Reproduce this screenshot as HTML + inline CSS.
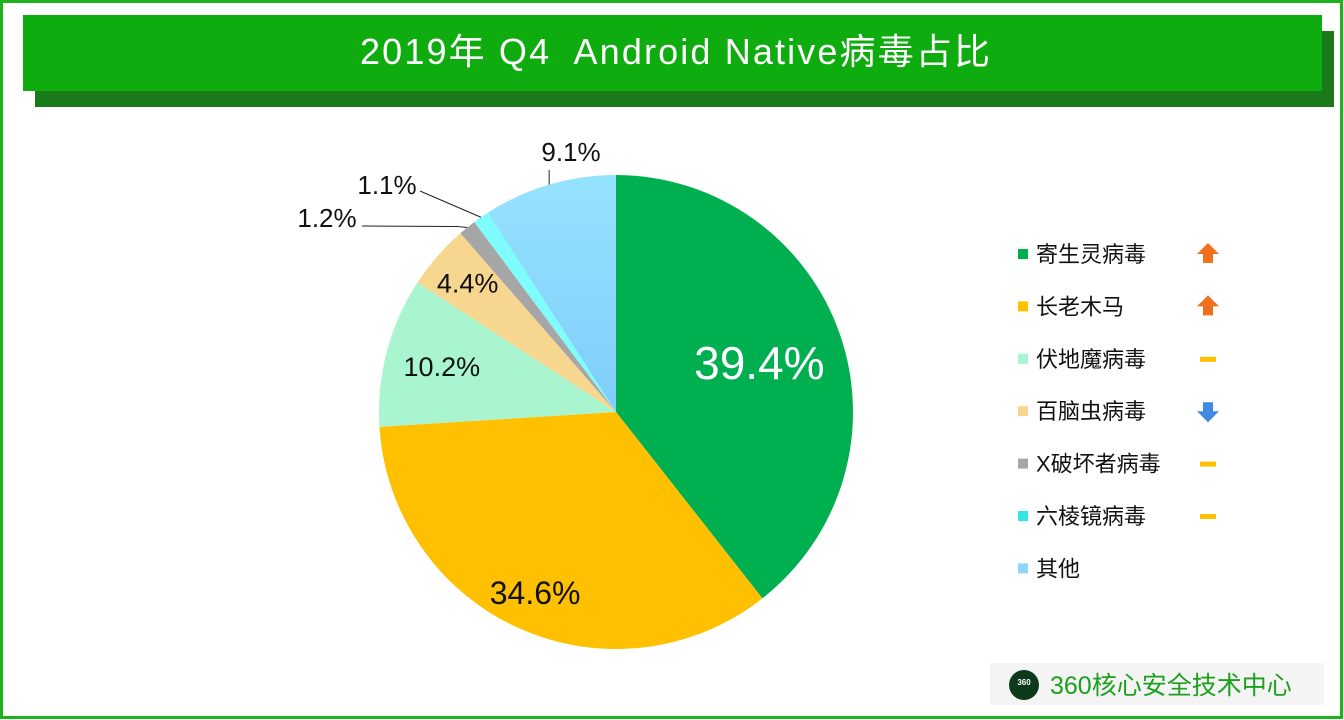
<!DOCTYPE html>
<html><head><meta charset="utf-8"><style>
body{margin:0;width:1344px;height:720px;overflow:hidden;background:#fff;font-family:"Liberation Sans","Noto Sans CJK SC",sans-serif;}
</style></head><body>
<svg width="1344" height="720" xmlns="http://www.w3.org/2000/svg" style="display:block">
<defs>
<linearGradient id="gb" x1="0" y1="0" x2="0" y2="1"><stop offset="0" stop-color="#95e3fd"/><stop offset="1" stop-color="#7fcdfb"/></linearGradient>
</defs>
<rect x="1.5" y="1.5" width="1340" height="716" fill="none" stroke="#1db31d" stroke-width="3"/>
<rect x="35" y="31" width="1299" height="76" fill="#1a7a1a"/>
<rect x="23" y="15" width="1299" height="76" fill="#0eac0e"/>
<text x="360" y="64" font-size="36" fill="#fff" textLength="630" lengthAdjust="spacing" xml:space="preserve">2019年 Q4  Android Native病毒占比</text>
<g id="pie"></g>
<g id="legend"></g>
<rect x="990" y="663" width="334" height="42" fill="#f4f4f4"/>
<circle cx="1024" cy="685" r="15" fill="#0c3a1a"/>
<text x="1024" y="685" text-anchor="middle" font-size="8" fill="#fff" font-weight="bold">360</text>
<text x="1050" y="694" font-size="25" fill="#1da01d">360核心安全技术中心</text>
</svg>
<script>
const categories=["寄生灵病毒","长老木马","伏地魔病毒","百脑虫病毒","X破坏者病毒","六棱镜病毒","其他"];
const values=[39.4,34.6,10.2,4.4,1.2,1.1,9.1];
const labels=["39.4%","34.6%","10.2%","4.4%","1.2%","1.1%","9.1%"];
const trends=["up","up","flat","down","flat","flat",""];
const colors=["#00b050","#ffc000","#a9f5cf","#f7d68f","#a6a6a6","#7ffcfc","url(#gb)"];
const legendColors=["#00b050","#ffc000","#a9f5cf","#f7d68f","#a6a6a6","#33e6e6","#8fd4fb"];
const NS="http://www.w3.org/2000/svg";
const cx=616,cy=412,r=237;
const pie=document.getElementById('pie');
const total=values.reduce((a,b)=>a+b,0);
function pt(a,rr){return [cx+rr*Math.sin(a),cy-rr*Math.cos(a)];}
let acc=0;
const mids=[];
values.forEach((v,i)=>{
  const a0=acc/total*2*Math.PI; acc+=v; const a1=acc/total*2*Math.PI;
  const p0=pt(a0,r),p1=pt(a1,r);
  const p=document.createElementNS(NS,'path');
  p.setAttribute('d',`M${cx},${cy}L${p0[0]},${p0[1]}A${r},${r} 0 ${a1-a0>Math.PI?1:0} 1 ${p1[0]},${p1[1]}Z`);
  p.setAttribute('fill',colors[i]);
  
  
  pie.appendChild(p);
  mids.push((a0+a1)/2);
});
function txt(x,y,s,size,fill,name){
  const t=document.createElementNS(NS,'text');
  t.setAttribute('x',x);t.setAttribute('y',y);t.setAttribute('font-size',size);t.setAttribute('fill',fill);
  t.setAttribute('text-anchor','middle');t.textContent=s;
  
  
  pie.appendChild(t);return t;
}
function line(pts,name){
  const l=document.createElementNS(NS,'polyline');
  l.setAttribute('points',pts.map(p=>p.join(',')).join(' '));
  l.setAttribute('fill','none');l.setAttribute('stroke','#222');l.setAttribute('stroke-width','1');
  
  
  pie.appendChild(l);
}
const inside=[[0,0.64,46,"#fff"],[1,0.835,32,"#111"],[2,0.76,27,"#111"],[3,0.83,27,"#111"]];
inside.forEach(([i,f,s,c])=>{const p=pt(mids[i],r*f);txt(p[0],p[1]+s*0.36,labels[i],s,c,'label-'+i);});
let e=pt(mids[4],r);line([[e[0],e[1]],[e[0]-10,e[1]-1],[362,226]],'leader-4');
txt(327,227,labels[4],26,"#111",'label-4');
e=pt(mids[5],r);line([[e[0],e[1]],[420,191]],'leader-5');
txt(387,194,labels[5],26,"#111",'label-5');
e=pt(mids[6],r);line([[e[0],e[1]],[e[0],170]],'leader-6');
txt(571,161,labels[6],26,"#111",'label-6');
const lg=document.getElementById('legend');
categories.forEach((c,i)=>{
  const y=254+i*52.4;
  const sq=document.createElementNS(NS,'rect');
  sq.setAttribute('x',1018);sq.setAttribute('y',y-5);sq.setAttribute('width',10);sq.setAttribute('height',10);sq.setAttribute('fill',legendColors[i]);
  
  
  lg.appendChild(sq);
  const t=document.createElementNS(NS,'text');
  t.setAttribute('x',1036);t.setAttribute('y',y+8);t.setAttribute('font-size',22);t.setAttribute('fill','#111');t.textContent=c;
  
  
  lg.appendChild(t);
  const tr=trends[i];
  if(tr){
    const p=document.createElementNS(NS,'path');const x=1208;
    if(tr==='up'){p.setAttribute('d',`M${x},${y-11}L${x+11},${y}L${x+5},${y}L${x+5},${y+9}L${x-5},${y+9}L${x-5},${y}L${x-11},${y}Z`);p.setAttribute('fill','#f26f1d');}
    else if(tr==='down'){p.setAttribute('d',`M${x},${y+11}L${x+11},${y}L${x+5},${y}L${x+5},${y-9}L${x-5},${y-9}L${x-5},${y}L${x-11},${y}Z`);p.setAttribute('fill','#3d8ae0');}
    else{p.setAttribute('d',`M${x-8},${y-2}h16v5h-16Z`);p.setAttribute('fill','#ffc000');}
    
    
    lg.appendChild(p);
  }
});
</script>
</body></html>
